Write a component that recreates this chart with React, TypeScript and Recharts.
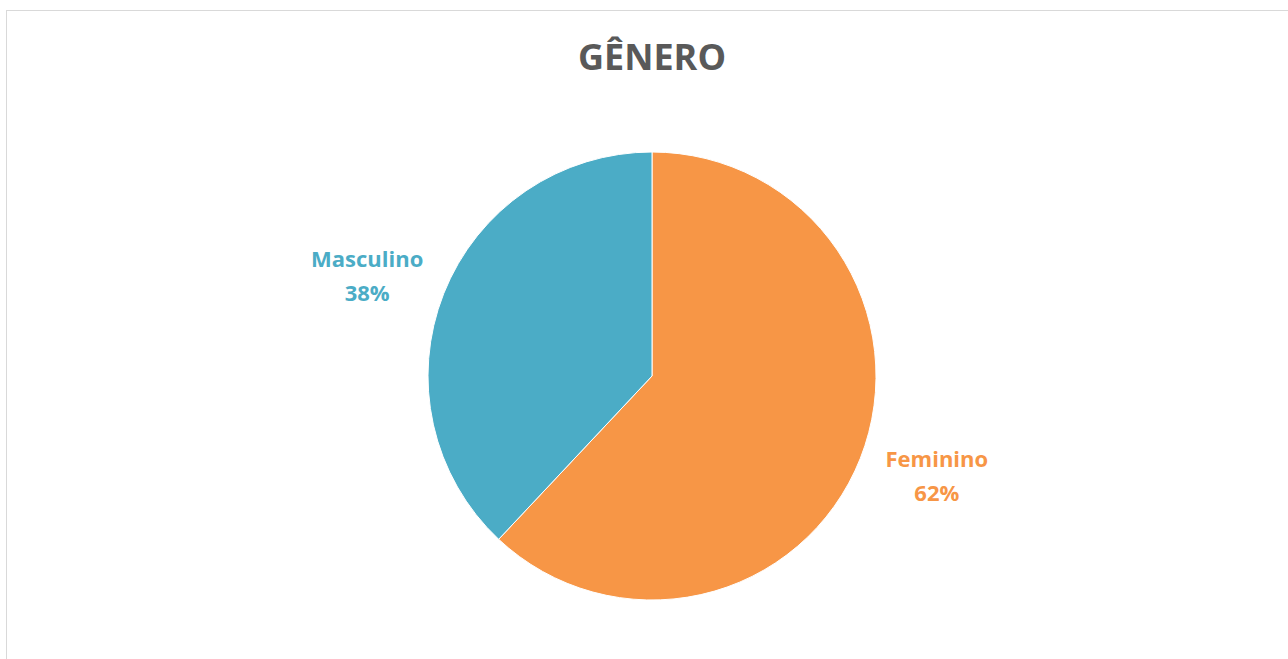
import React from "react";
import { PieChart, Pie, Cell } from "recharts";

const categories = ["Feminino", "Masculino"];
const values = [62, 38];
const colors = ["#F79646", "#4BACC6"];
const title = "GÊNERO";

const data = categories.map((name, i) => ({ name, value: values[i] }));

const RAD = Math.PI / 180;

const renderLabel = (props: any) => {
  const { cx, cy, midAngle, outerRadius, name, percent, index } = props;
  const r = outerRadius + 78;
  const a = midAngle + 2.2;
  const x = cx + r * Math.cos(-a * RAD);
  const y = cy + r * Math.sin(-a * RAD);
  const fill = colors[index % colors.length];
  return (
    <text
      x={x}
      y={y}
      fill={fill}
      textAnchor="middle"
      fontFamily="'Open Sans', sans-serif"
      fontWeight="bold"
      fontSize={22}
    >
      <tspan x={x} y={y - 9}>{name}</tspan>
      <tspan x={x} y={y + 25}>{`${Math.round(percent * 100)}%`}</tspan>
    </text>
  );
};

export default function App() {
  return (
    <div
      style={{
        position: "absolute",
        left: 6,
        top: 10,
        width: 1282,
        height: 649,
        borderLeft: "1px solid #d9d9d9",
        borderTop: "1px solid #d9d9d9",
        background: "#fff",
        overflow: "hidden",
      }}
    >
      <div
        style={{
          position: "absolute",
          left: 0,
          top: 22,
          width: 1290,
          textAlign: "center",
          fontFamily: "'Open Sans', sans-serif",
          fontWeight: "bold",
          fontSize: 36,
          color: "#595959",
          lineHeight: "48px",
        }}
      >
        {title}
      </div>
      <PieChart width={1282} height={649}>
        <Pie
          data={data}
          dataKey="value"
          nameKey="name"
          cx={640}
          cy={360}
          outerRadius={224}
          startAngle={90}
          endAngle={-270}
          stroke="#ffffff"
          strokeWidth={1}
          label={renderLabel}
          labelLine={false}
          isAnimationActive={false}
        >
          {data.map((d, i) => (
            <Cell key={d.name} fill={colors[i]} />
          ))}
        </Pie>
      </PieChart>
    </div>
  );
}
